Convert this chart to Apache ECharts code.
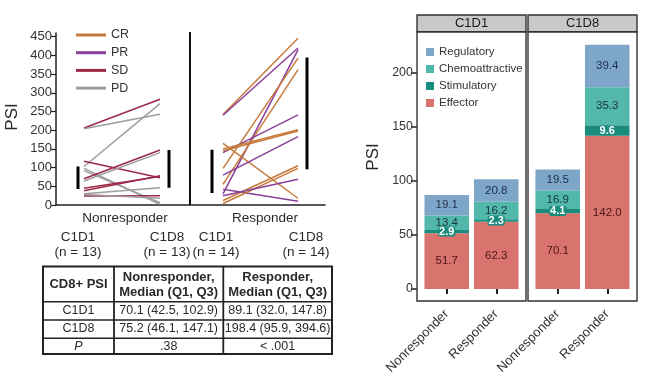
<!DOCTYPE html>
<html><head><meta charset="utf-8">
<script src="https://cdn.jsdelivr.net/npm/echarts@6/dist/echarts.min.js"></script>
<style>html,body{margin:0;padding:0;background:#fff}#c{width:650px;height:386px}</style>
</head><body><div id="c"></div>
<script>
// ---------------- DATA ----------------
const statuses = ['CR', 'PR', 'SD', 'PD'];
const groups = ['Nonresponder', 'Responder'];
const timepoints = ['C1D1', 'C1D8'];
const groupN = [13, 14];

// Per-patient PSI (left panel)
const nrStatus = ['SD', 'PD', 'PD', 'SD', 'PD', 'PD', 'SD', 'PD', 'SD', 'SD', 'PD', 'SD', 'PD'];
const nrC1D1   = [206, 204, 103, 117, 98, 92, 70, 64, 45, 38, 30, 24, 28];
const nrC1D8   = [283, 243, 271, 73, 2, 6, 147, 140, 76, 78, 46, 25, 18];

const rStatus = ['CR', 'PR', 'PR', 'CR', 'CR', 'PR', 'CR', 'PR', 'CR', 'PR', 'CR', 'CR', 'CR', 'PR'];
const rC1D1   = [242, 240, 30, 98, 55, 140, 165, 42, 150, 80, 145, 12, 4, 25];
const rC1D8   = [446, 420, 415, 393, 362, 241, 18, 10, 201, 183, 198, 105, 98, 69];

// Table: median (Q1, Q3) per group, [C1D1, C1D8]
const nrMedian = [70.1, 75.2];
const nrQ1     = [42.5, 46.1];
const nrQ3     = [102.9, 147.1];
const rMedian  = [89.1, 198.4];
const rQ1      = [32.0, 95.9];
const rQ3      = [147.8, 394.6];
const pValues  = ['.38', '< .001'];

// Stacked bars (right panel): [timepoint][group]
const components = ['Regulatory', 'Chemoattractive', 'Stimulatory', 'Effector'];
const effector        = [[51.7, 62.3], [70.1, 142.0]];
const stimulatory     = [[2.9, 2.3], [4.1, 9.6]];
const chemoattractive = [[13.4, 16.2], [16.9, 35.3]];
const regulatory      = [[19.1, 20.8], [19.5, 39.4]];

const leftTicks = [0, 50, 100, 150, 200, 250, 300, 350, 400, 450];
const rightTicks = [0, 50, 100, 150, 200];

// ---------------- LAYOUT / STYLE ----------------
const FONT = "'Liberation Sans', Arial, sans-serif";
const TXT = '#2a2a2a';
const L = { left: 56, right: 325, top: 33, bottom: 205 };
const lay = {
  lineX: [[84, 160], [223, 298]],
  barX: [[78, 169], [212, 307]],
  tpLabelX: [[78, 167], [216, 306]],
  groupLabelX: [125, 265],
  dividerX: 190
};
const ax = px => px - L.left;
const statusColor = { CR: '#c67a3c', PR: '#8a3f99', SD: '#9c2a48', PD: '#9d9d9d' };
const compColor = { Regulatory: '#7ea6c9', Chemoattractive: '#52b8a9', Stimulatory: '#1a8c7d', Effector: '#d8736e' };
const compLabel = {
  Regulatory: { color: '#1d2d48' },
  Chemoattractive: { color: '#17333d' },
  Stimulatory: { color: '#ffffff', fontWeight: 'bold', fontSize: 11, backgroundColor: '#1a8c7d', padding: [0, 1, 0, 1], borderRadius: 2, lineHeight: 10 },
  Effector: { color: '#4a1616' }
};
const panels = [{ x: 417, w: 109 }, { x: 528, w: 109 }];
const panelTop = 31.7, panelBottom = 301, stripTop = 15;

// ---------------- SERIES ----------------
const series = [];
function addPatients(gi, st, d1, d8) {
  st.forEach((s, i) => series.push({
    type: 'line', name: s, xAxisIndex: 0, yAxisIndex: 0, symbol: 'none', silent: true,
    color: statusColor[s], lineStyle: { width: 1.5, color: statusColor[s] },
    data: [[ax(lay.lineX[gi][0]), d1[i]], [ax(lay.lineX[gi][1]), d8[i]]]
  }));
}
addPatients(0, nrStatus, nrC1D1, nrC1D8);
addPatients(1, rStatus, rC1D1, rC1D8);

const q1s = [nrQ1, rQ1], q3s = [nrQ3, rQ3];
[0, 1].forEach(gi => [0, 1].forEach(ti => series.push({
  type: 'line', xAxisIndex: 0, yAxisIndex: 0, symbol: 'none', silent: true, z: 5,
  lineStyle: { width: 3, color: '#000' },
  data: [[ax(lay.barX[gi][ti]), q1s[gi][ti]], [ax(lay.barX[gi][ti]), q3s[gi][ti]]]
})));
series.push({
  type: 'line', xAxisIndex: 0, yAxisIndex: 0, symbol: 'none', silent: true,
  lineStyle: { width: 2, color: '#111' },
  data: [[ax(lay.dividerX), 0], [ax(lay.dividerX), 463]]
});

const compData = { Effector: effector, Stimulatory: stimulatory, Chemoattractive: chemoattractive, Regulatory: regulatory };
const stackOrder = ['Effector', 'Stimulatory', 'Chemoattractive', 'Regulatory'];
[0, 1].forEach(ti => stackOrder.forEach(c => series.push({
  type: 'bar', name: c, xAxisIndex: ti + 1, yAxisIndex: ti + 1, stack: 's' + ti,
  barWidth: '90%', color: compColor[c], itemStyle: { color: compColor[c] },
  label: Object.assign({
    show: true, position: 'inside', fontSize: 11.5, fontFamily: FONT,
    formatter: p => p.value.toFixed(1)
  }, compLabel[c]),
  data: compData[c][ti]
})));

// ---------------- GRAPHICS (panels, texts, table) ----------------
const g = [];
function text(t, x, y, o) {
  g.push({ type: 'text', x: x, y: y, rotation: (o && o.rot) || 0, silent: true, z: 10,
    style: Object.assign({ text: t, x: 0, y: 0, fill: TXT, fontSize: 13, fontFamily: FONT, align: 'center', verticalAlign: 'middle' }, o && o.style) });
}
function hline(x1, x2, y, w) { g.push({ type: 'line', silent: true, z: 10, shape: { x1: x1, y1: y, x2: x2, y2: y }, style: { stroke: '#222', lineWidth: w } }); }
function vline(x, y1, y2, w) { g.push({ type: 'line', silent: true, z: 10, shape: { x1: x, y1: y1, x2: x, y2: y2 }, style: { stroke: '#222', lineWidth: w } }); }

// left chart texts
text('PSI', 12, 117, { rot: Math.PI / 2, style: { fontSize: 17 } });
groups.forEach((gname, gi) => {
  text(gname, lay.groupLabelX[gi], 218, { style: { fontSize: 13.5 } });
  timepoints.forEach((tp, ti) => {
    text(tp, lay.tpLabelX[gi][ti], 237, { style: { fontSize: 13.5 } });
    text('(n = ' + groupN[gi] + ')', lay.tpLabelX[gi][ti], 252, { style: { fontSize: 13.5 } });
  });
});

// table
const T = { l: 43, r: 332, t: 266.5, b: 354, cols: [114, 223.3], rows: [301.7, 320, 338.3] };
g.push({ type: 'rect', silent: true, z: 10, shape: { x: T.l, y: T.t, width: T.r - T.l, height: T.b - T.t }, style: { fill: 'none', stroke: '#222', lineWidth: 2 } });
T.cols.forEach(x => vline(x, T.t, T.b, 1.8));
T.rows.forEach(y => hline(T.l, T.r, y, 1.5));
const colC = [(T.l + T.cols[0]) / 2, (T.cols[0] + T.cols[1]) / 2, (T.cols[1] + T.r) / 2];
const hb = { fontWeight: 'bold', fontSize: 13 };
text('CD8+ PSI', colC[0], 284, { style: hb });
text(groups[0] + ',', colC[1], 277, { style: hb });
text('Median (Q1, Q3)', colC[1], 292.5, { style: hb });
text(groups[1] + ',', colC[2], 277, { style: hb });
text('Median (Q1, Q3)', colC[2], 292.5, { style: hb });
const fmt = (m, a, b) => m.toFixed(1) + ' (' + a.toFixed(1) + ', ' + b.toFixed(1) + ')';
const rowY = [311, 329];
timepoints.forEach((tp, ti) => {
  text(tp, colC[0], rowY[ti], { style: { fontSize: 12.5 } });
  text(fmt(nrMedian[ti], nrQ1[ti], nrQ3[ti]), colC[1], rowY[ti], { style: { fontSize: 12.5 } });
  text(fmt(rMedian[ti], rQ1[ti], rQ3[ti]), colC[2], rowY[ti], { style: { fontSize: 12.5 } });
});
text('P', colC[0], 346.5, { style: { fontSize: 12.5, fontStyle: 'italic' } });
text(pValues[0], colC[1], 346.5, { style: { fontSize: 12.5 } });
text(pValues[1], colC[2], 346.5, { style: { fontSize: 12.5 } });

// right chart panels and strips
panels.forEach((p, ti) => {
  g.push({ type: 'rect', silent: true, z: 10, shape: { x: p.x, y: panelTop, width: p.w, height: panelBottom - panelTop }, style: { fill: 'none', stroke: '#333', lineWidth: 1.4 } });
  g.push({ type: 'rect', silent: true, z: 10, shape: { x: p.x, y: stripTop, width: p.w, height: panelTop - stripTop }, style: { fill: '#c9c9c9', stroke: '#333', lineWidth: 1.4 } });
  text(timepoints[ti], p.x + p.w / 2, (stripTop + panelTop) / 2 + 0.5, { style: { fontSize: 13, fill: '#1a1a1a' } });
});
text('PSI', 373, 157, { rot: Math.PI / 2, style: { fontSize: 17 } });

// ---------------- OPTION ----------------
const chart = echarts.init(document.getElementById('c'), null, { renderer: 'canvas' });
const grid1 = { left: 422, width: 99, top: 32, height: 257 };
const grid2 = { left: 533, width: 99, top: 32, height: 257 };
const catAxis = gi => ({ type: 'category', gridIndex: gi, data: groups, offset: 12, axisLine: { show: false },
  axisTick: { show: true, alignWithLabel: true, length: 5, lineStyle: { color: '#222', width: 2 } },
  axisLabel: { rotate: 45, fontSize: 13, color: '#333', margin: 11, fontFamily: FONT } });
chart.setOption({
  animation: false,
  backgroundColor: '#fff',
  textStyle: { fontFamily: FONT },
  legend: [
    { data: statuses, orient: 'vertical', left: 76, top: 27.5, padding: 0, itemGap: 2.7, icon: 'rect',
      itemWidth: 30, itemHeight: 3, selectedMode: false,
      textStyle: { fontSize: 12.5, color: '#333', lineHeight: 15, fontFamily: FONT } },
    { data: components, orient: 'vertical', left: 426, top: 44.5, padding: 0, itemGap: 2, icon: 'rect',
      itemWidth: 8, itemHeight: 8, itemTextGap: 4, selectedMode: false,
      textStyle: { fontSize: 11.5, color: '#333', lineHeight: 15, fontFamily: FONT } }
  ],
  grid: [
    { left: L.left, width: L.right - L.left, top: L.top, height: L.bottom - L.top },
    grid1, grid2
  ],
  xAxis: [
    { type: 'value', gridIndex: 0, min: 0, max: L.right - L.left, axisLabel: { show: false }, axisTick: { show: false }, splitLine: { show: false },
      axisLine: { show: true, onZero: false, lineStyle: { color: '#222', width: 1.5 } } },
    catAxis(1), catAxis(2)
  ],
  yAxis: [
    { type: 'value', gridIndex: 0, min: 0, max: 460, splitLine: { show: false },
      axisLine: { show: true, onZero: false, lineStyle: { color: '#222', width: 1.5 } },
      axisTick: { show: true, length: 5, customValues: leftTicks, lineStyle: { color: '#222', width: 1.2 } },
      axisLabel: { customValues: leftTicks, fontSize: 13, color: '#333', margin: 4, fontFamily: FONT } },
    { type: 'value', gridIndex: 1, min: 0, max: 238, offset: 5, splitLine: { show: false },
      axisLine: { show: false },
      axisTick: { show: true, length: 6, customValues: rightTicks, lineStyle: { color: '#222', width: 1.5 } },
      axisLabel: { customValues: rightTicks, fontSize: 12.5, color: '#333', margin: 4, fontFamily: FONT } },
    { type: 'value', gridIndex: 2, min: 0, max: 238, show: false, splitLine: { show: false } }
  ],
  series: series,
  graphic: { elements: g }
});
</script>
</body></html>
